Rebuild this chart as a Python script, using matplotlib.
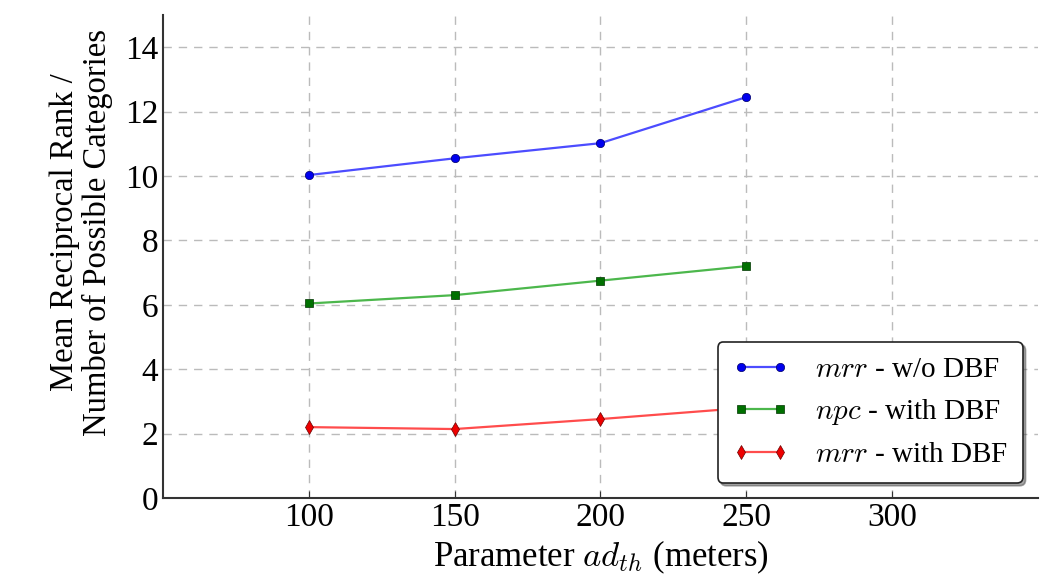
import matplotlib
matplotlib.use("Agg")
import matplotlib.pyplot as plt

plt.rcParams['font.family'] = ['Liberation Serif', 'DejaVu Serif']
plt.rcParams['mathtext.fontset'] = 'cm'

x_vals = [100, 150, 200, 250]
mrr_wo_dbf = [10.03, 10.55, 11.02, 12.45]
npc_with_dbf = [6.04, 6.30, 6.75, 7.20]
mrr_with_dbf = [2.20, 2.14, 2.45, 2.80]
labels = [r'$mrr$ - w/o DBF', r'$npc$ - with DBF', r'$mrr$ - with DBF']
x_ticks = [100, 150, 200, 250, 300]
y_ticks = [0, 2, 4, 6, 8, 10, 12, 14]

fig = plt.figure(figsize=(10.46, 5.79), dpi=100)
ax = fig.add_axes([0.156, 0.14, 0.836, 0.834])

ax.plot(x_vals, mrr_wo_dbf, color=(0, 0, 1, 0.7), lw=1.6, marker='o', ms=6,
        mfc='#0000ee', mec='#000066', mew=0.5, label=labels[0])
ax.plot(x_vals, npc_with_dbf, color=(0.0, 0.6, 0.0, 0.7), lw=1.6, marker='s', ms=6,
        mfc='#007000', mec='#003300', mew=0.5, label=labels[1])
ax.plot(x_vals, mrr_with_dbf, color=(1, 0, 0, 0.7), lw=1.6, marker='d', ms=7,
        mfc='#ee0000', mec='#660000', mew=0.5, label=labels[2])

ax.set_xlim(50, 350)
ax.set_ylim(0, 15)
ax.set_xticks(x_ticks)
ax.set_yticks(y_ticks)
ax.tick_params(axis='both', labelsize=24, direction='in', length=5, width=0.8,
               colors='#333333', labelcolor='black')
ax.tick_params(axis='y', length=0)
for s in ['top', 'right']:
    ax.spines[s].set_visible(False)
for s in ['left', 'bottom']:
    ax.spines[s].set_color('#333333')
    ax.spines[s].set_linewidth(1.5)

ax.grid(True, linestyle=(0, (6, 5)), color='#bbbbbb', lw=1.0)
ax.set_axisbelow(True)

ax.set_xlabel(r'Parameter $ad_{th}$ (meters)', fontsize=25, labelpad=4)
ax.set_ylabel('Mean Reciprocal Rank /\nNumber of Possible Categories', fontsize=23.5,
              linespacing=1.1)
ax.yaxis.set_label_coords(-0.057, 0.55)

leg = ax.legend(loc='lower right', bbox_to_anchor=(0.983, 0.031), borderaxespad=0,
                fontsize=21, numpoints=2, fancybox=True, shadow=True, framealpha=1,
                borderpad=0.5, handlelength=1.95, handletextpad=0.9, labelspacing=0.5)
leg.get_frame().set_edgecolor('#222222')
leg.get_frame().set_linewidth(1.2)

fig.savefig('out.png', dpi=100)
